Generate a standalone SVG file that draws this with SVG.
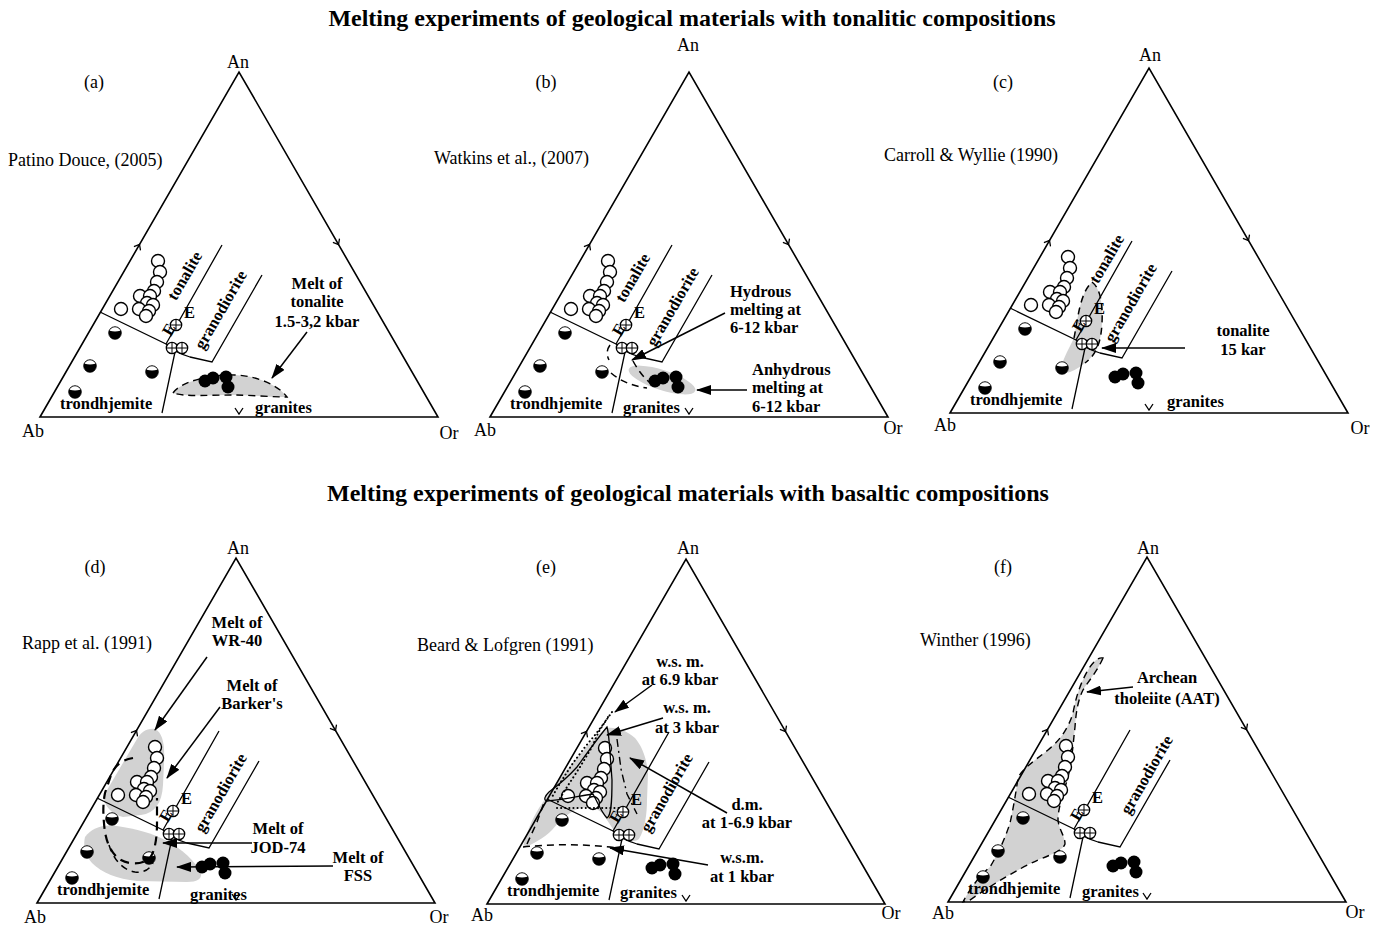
<svg xmlns="http://www.w3.org/2000/svg" xmlns:xlink="http://www.w3.org/1999/xlink" width="1384" height="926" viewBox="0 0 1384 926">
<style>
text{font-family:"Liberation Serif","Times New Roman",serif;fill:#000}
.b{font-weight:bold;font-size:16.5px}
.r{font-size:18px}
.ttl{font-weight:bold;font-size:24px}
.tri{fill:none;stroke:#000;stroke-width:1.6}
.ln{fill:none;stroke:#000;stroke-width:1.3}
.gr{fill:#d2d2d2;stroke:none}
.gd{fill:#d2d2d2;stroke:#000;stroke-width:1.4;stroke-dasharray:7 5}
.ds{fill:none;stroke:#000;stroke-width:1.5;stroke-dasharray:7 5}
.dd{fill:none;stroke:#000;stroke-width:2.2;stroke-dasharray:9 6}
.dt{fill:none;stroke:#000;stroke-width:2;stroke-dasharray:0.1 4;stroke-linecap:round}
.dc{fill:none;stroke:#000;stroke-width:1.4;stroke-dasharray:8 4 2 4}
.arr{fill:none;stroke:#000;stroke-width:1.5;marker-end:url(#ah)}
</style>
<defs>
<marker id="ah" viewBox="0 0 15 10" refX="14" refY="5" markerWidth="15" markerHeight="10" markerUnits="userSpaceOnUse" orient="auto">
<path d="M0,0 L15,5 L0,10 Z" fill="#000"/>
</marker>
<g id="oc"><circle r="6.5" fill="#fff" stroke="#000" stroke-width="1.4"/></g>
<g id="hc"><circle r="6.3" fill="#000" stroke="#000" stroke-width="0.8"/><path d="M-5.3,-2.2 A5.7,5.7 0 0 1 5.3,-2.2 Q0,-0.6 -5.3,-2.2Z" fill="#fff"/></g>
<g id="cc"><circle r="5.7" fill="#fff" stroke="#000" stroke-width="1.3"/><path d="M-5.7,0H5.7M0,-5.7V5.7" stroke="#000" stroke-width="1"/></g>
<g id="bc"><circle r="6.5" fill="#000"/></g>
<g id="frame">
<path class="tri" d="M0,0 L199,-345 L398,0 Z"/>
<path class="ln" d="M100.5,-166.6 L99.5,-172.5 L93.9,-170.4 M292.9,-174.6 L298.5,-172.5 L299.5,-178.4 M195,-9 L199,-3 L203,-9"/>
<path class="ln" d="M60,-105 L126,-73 Q136,-64 150,-60 L172,-55 L222,-142 M126,-73 L182,-172 M135,-65 L122,-4"/>
</g>
<g id="pts">
<use xlink:href="#oc" x="118" y="-156"/>
<use xlink:href="#oc" x="120" y="-145"/>
<use xlink:href="#oc" x="117" y="-135"/>
<use xlink:href="#oc" x="114" y="-126"/>
<use xlink:href="#oc" x="100" y="-121"/>
<use xlink:href="#oc" x="110" y="-121"/>
<use xlink:href="#oc" x="107" y="-114"/>
<use xlink:href="#oc" x="113" y="-112"/>
<use xlink:href="#oc" x="99" y="-108"/>
<use xlink:href="#oc" x="109" y="-106"/>
<use xlink:href="#oc" x="106" y="-101"/>
<use xlink:href="#oc" x="81" y="-108"/>
<use xlink:href="#cc" x="136" y="-92"/>
<use xlink:href="#cc" x="132" y="-69"/>
<use xlink:href="#cc" x="142" y="-69"/>
<text class="b" x="144" y="-99" font-size="12">E</text>
<text class="b" font-size="8" transform="translate(131,-80) rotate(-60)">E</text>
<use xlink:href="#hc" x="75" y="-84"/>
<use xlink:href="#hc" x="50" y="-51"/>
<use xlink:href="#hc" x="112" y="-45"/>
<use xlink:href="#hc" x="35" y="-25"/>
<use xlink:href="#bc" x="165" y="-36"/>
<use xlink:href="#bc" x="173" y="-39"/>
<use xlink:href="#bc" x="186" y="-40"/>
<use xlink:href="#bc" x="188" y="-30"/>
<text class="b" x="20" y="-8">trondhjemite</text>
</g>
</defs>

<g id="titles">
<text class="ttl" x="692" y="26" text-anchor="middle">Melting experiments of geological materials with tonalitic compositions</text>
<text class="ttl" x="688" y="501" text-anchor="middle">Melting experiments of geological materials with basaltic compositions</text>
</g>

<g id="panel-a">
<text class="r" x="94" y="88" text-anchor="middle">(a)</text>
<text class="r" x="238" y="68" text-anchor="middle">An</text>
<text class="r" x="8" y="166" font-size="19.5">Patino Douce, (2005)</text>
<text class="r" x="33" y="437" text-anchor="middle">Ab</text>
<text class="r" x="449" y="439" text-anchor="middle">Or</text>
<g transform="translate(40,417)">
<path class="gd" d="M133,-24 C140,-35 170,-43 195,-42 C220,-41 240,-30 247,-20 C230,-20 210,-22 193,-22 C170,-22 145,-20 133,-24Z"/>
<use xlink:href="#frame"/>
<use xlink:href="#pts"/>
<text class="b" text-anchor="middle" dy="5" transform="translate(145,-141) rotate(-60)">tonalite</text>
<text class="b" text-anchor="middle" dy="5" transform="translate(181,-107) rotate(-60)">granodiorite</text>
<text class="b" x="215" y="-4">granites</text>
<g text-anchor="middle"><text class="b" x="277" y="-128">Melt of</text><text class="b" x="277" y="-110">tonalite</text><text class="b" x="277" y="-90">1.5-3,2 kbar</text></g>
</g>
</g>

<g id="panel-b">
<text class="r" x="546" y="88" text-anchor="middle">(b)</text>
<text class="r" x="688" y="51" text-anchor="middle">An</text>
<text class="r" x="434" y="164" font-size="16.5">Watkins et al., (2007)</text>
<text class="r" x="485" y="436" text-anchor="middle">Ab</text>
<text class="r" x="893" y="434" text-anchor="middle">Or</text>
<g transform="translate(490,417)">
<ellipse class="gr" cx="172" cy="-37" rx="35" ry="10" transform="rotate(18 172 -37)"/>
<use xlink:href="#frame"/>
<use xlink:href="#pts"/>
<path class="ds" d="M120,-72 Q115,-65 119,-57 M121,-44 Q135,-32 157,-29 M143,-56 Q150,-43 160,-34"/>
<text class="b" text-anchor="middle" dy="5" transform="translate(143,-139) rotate(-60)">tonalite</text>
<text class="b" text-anchor="middle" dy="5" transform="translate(183,-110) rotate(-60)">granodiorite</text>
<text class="b" x="133" y="-4">granites</text>
<text class="b" x="240" y="-120">Hydrous</text><text class="b" x="240" y="-102">melting at</text><text class="b" x="240" y="-84">6-12 kbar</text>
<text class="b" x="262" y="-42">Anhydrous</text><text class="b" x="262" y="-24">melting at</text><text class="b" x="262" y="-5">6-12 kbar</text>
</g>
</g>

<g id="panel-c">
<text class="r" x="1003" y="88" text-anchor="middle">(c)</text>
<text class="r" x="1150" y="61" text-anchor="middle">An</text>
<text class="r" x="884" y="161" font-size="17">Carroll &amp; Wyllie (1990)</text>
<text class="r" x="945" y="431" text-anchor="middle">Ab</text>
<text class="r" x="1360" y="434" text-anchor="middle">Or</text>
<g transform="translate(950,413)">
<path class="gr" d="M142,-131 C150,-125 153,-110 152,-90 C151,-70 146,-58 135,-50 C125,-42 116,-38 112,-42 C110,-50 118,-62 124,-75 C128,-95 130,-120 142,-131Z"/>
<use xlink:href="#frame"/>
<use xlink:href="#pts"/>
<path class="ds" d="M142,-131 C150,-125 153,-110 152,-90 C151,-70 146,-58 135,-50 M124,-75 C128,-95 130,-120 142,-131"/>
<text class="b" text-anchor="middle" dy="5" transform="translate(157,-154) rotate(-60)">tonalite</text>
<text class="b" text-anchor="middle" dy="5" transform="translate(181,-110) rotate(-60)">granodiorite</text>
<text class="b" x="217" y="-6">granites</text>
<g text-anchor="middle"><text class="b" x="293" y="-77">tonalite</text><text class="b" x="293" y="-58">15 kar</text></g>
</g>
</g>

<g id="panel-d">
<text class="r" x="95" y="573" text-anchor="middle">(d)</text>
<text class="r" x="238" y="554" text-anchor="middle">An</text>
<text class="r" x="22" y="649" font-size="19.5">Rapp et al. (1991)</text>
<text class="r" x="35" y="923" text-anchor="middle">Ab</text>
<text class="r" x="439" y="923" text-anchor="middle">Or</text>
<g transform="translate(37,903)">
<path class="gr" d="M118,-174 C126,-170 128,-158 127,-140 L126,-118 C125,-100 118,-90 104,-88 L86,-86 C76,-88 68,-96 66,-106 L100,-164 C104,-171 110,-175 118,-174Z"/>
<path class="gr" d="M48,-66 C55,-75 65,-79 80,-77 C100,-74 115,-70 130,-62 C145,-54 158,-42 164,-30 C165,-24 160,-21 150,-21 L100,-22 C80,-24 65,-30 55,-40 C48,-48 46,-58 48,-66Z"/>
<use xlink:href="#frame"/>
<use xlink:href="#pts"/>
<path class="dd" d="M96,-145 C85,-143 78,-138 74,-128 L68,-110 C66,-100 66,-90 67,-80 C68,-65 72,-52 82,-44 C92,-38 105,-38 113,-45 C118,-52 120,-65 120,-80 L120,-105"/>
<path class="ds" d="M72,-58 C76,-45 85,-33 98,-31 C106,-30 112,-33 116,-40"/>
<text class="b" text-anchor="middle" dy="5" transform="translate(184,-110) rotate(-60)">granodiorite</text>
<text class="b" x="153" y="-3">granites</text>
<g text-anchor="middle">
<text class="b" x="200" y="-275">Melt of</text><text class="b" x="200" y="-257">WR-40</text>
<text class="b" x="215" y="-212">Melt of</text><text class="b" x="215" y="-194">Barker's</text>
<text class="b" x="241" y="-69">Melt of</text><text class="b" x="241" y="-50">JOD-74</text>
<text class="b" x="321" y="-40">Melt of</text><text class="b" x="321" y="-22">FSS</text>
</g>
</g>
</g>

<g id="panel-e">
<text class="r" x="546" y="573" text-anchor="middle">(e)</text>
<text class="r" x="688" y="554" text-anchor="middle">An</text>
<text class="r" x="417" y="651" font-size="19.5">Beard &amp; Lofgren (1991)</text>
<text class="r" x="482" y="921" text-anchor="middle">Ab</text>
<text class="r" x="891" y="919" text-anchor="middle">Or</text>
<g transform="translate(487,904)">
<path class="gr" d="M120,-176 C130,-177 140,-173 148,-166 C155,-158 160,-145 161,-130 L160,-104 C160,-90 158,-75 152,-65 C145,-60 135,-64 128,-72 L116,-90 C110,-97 100,-99 88,-94 C80,-90 72,-82 65,-74 C57,-66 46,-60 36,-56 C38,-68 45,-85 52,-96 L60,-108 C70,-122 80,-135 90,-146 C100,-158 110,-170 120,-176Z"/>
<use xlink:href="#frame"/>
<use xlink:href="#pts"/>
<path class="ln" d="M120,-177 C110,-165 98,-148 90,-137 C82,-128 70,-118 62,-112 C58,-108 56,-104 60,-103 C75,-104 92,-108 106,-110 C110,-103 114,-92 120,-86 C124,-88 125,-100 125,-124 L123,-152 C122,-162 122,-170 120,-177Z"/>
<path class="dt" d="M125,-192 L118,-182 L108,-169 L98,-157 L86,-141 L75,-124 L65,-107 M121,-187 L111,-171 L105,-157 L93,-137 L80,-117 L70,-101 M70,-96 L133,-96"/>
<path class="ds" d="M36,-57 Q83,-62 131,-56 M40,-60 L50,-82 L58,-104"/>
<path class="dc" d="M130,-165 L134,-135 L140,-110 L150,-90"/>
<text class="b" text-anchor="middle" dy="5" transform="translate(180,-111) rotate(-60)">granodiorite</text>
<text class="b" x="133" y="-6">granites</text>
<g text-anchor="middle">
<text class="b" x="193" y="-237">w.s. m.</text><text class="b" x="193" y="-219">at 6.9 kbar</text>
<text class="b" x="200" y="-191">w.s. m.</text><text class="b" x="200" y="-171">at 3 kbar</text>
<text class="b" x="260" y="-94">d.m.</text><text class="b" x="260" y="-76">at 1-6.9 kbar</text>
<text class="b" x="255" y="-41">w.s.m.</text><text class="b" x="255" y="-22">at 1 kbar</text>
</g>
</g>
</g>

<g id="panel-f">
<text class="r" x="1003" y="573" text-anchor="middle">(f)</text>
<text class="r" x="1148" y="554" text-anchor="middle">An</text>
<text class="r" x="920" y="646" font-size="19.5">Winther (1996)</text>
<text class="r" x="943" y="919" text-anchor="middle">Ab</text>
<text class="r" x="1355" y="918" text-anchor="middle">Or</text>
<g transform="translate(948,902)">
<path class="gd" d="M155,-244 C150,-232 140,-220 135,-212 C130,-202 128,-190 127,-175 C125,-158 124,-140 120,-125 C116,-110 110,-95 110,-82 C111,-72 117,-66 117,-58 C115,-52 105,-48 90,-42 C70,-33 45,-18 22,-2 L15,0 C20,-10 30,-25 42,-35 C48,-45 56,-60 62,-79 C65,-92 68,-110 70,-124 C74,-133 85,-140 100,-152 C110,-160 120,-172 125,-189 C128,-205 132,-218 140,-232 C145,-240 150,-245 155,-244Z"/>
<use xlink:href="#frame"/>
<use xlink:href="#pts"/>
<text class="b" text-anchor="middle" dy="5" transform="translate(199,-127) rotate(-60)">granodiorite</text>
<text class="b" x="134" y="-5">granites</text>
<g text-anchor="middle"><text class="b" x="219" y="-219">Archean</text><text class="b" x="219" y="-198">tholeiite (AAT)</text></g>
</g>
</g>

<g id="connectors">
<line class="arr" x1="307" y1="332" x2="272" y2="378"/>
<line class="arr" x1="725" y1="313" x2="632" y2="360"/>
<line class="arr" x1="747" y1="390" x2="697" y2="390"/>
<line class="arr" x1="1185" y1="348" x2="1102" y2="348"/>
<line class="arr" x1="207" y1="657" x2="155" y2="730"/>
<line class="arr" x1="220" y1="707" x2="167" y2="778"/>
<line class="arr" x1="252" y1="843" x2="163" y2="843"/>
<line class="arr" x1="333" y1="866" x2="177" y2="867"/>
<line class="arr" x1="652" y1="685" x2="615" y2="712"/>
<line class="arr" x1="663" y1="718" x2="607" y2="735"/>
<line class="arr" x1="727" y1="813" x2="630" y2="758"/>
<line class="arr" x1="708" y1="865" x2="610" y2="848"/>
<line class="arr" x1="1133" y1="687" x2="1087" y2="692"/>
</g>
</svg>
